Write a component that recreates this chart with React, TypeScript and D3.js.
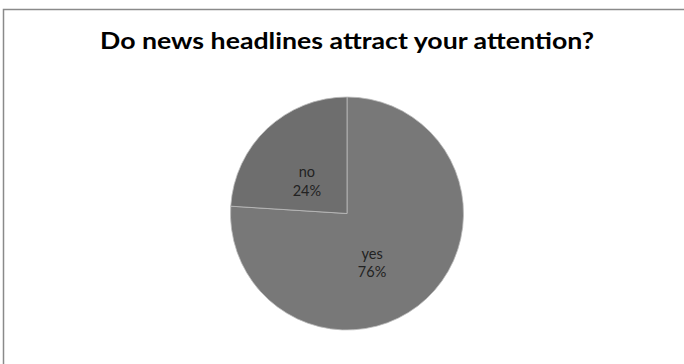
import React from "react";
import * as d3 from "d3";

const title = "Do news headlines attract your attention?";
const categories = ["yes", "no"];
const values = [76, 24];
const sliceColors = ["#787878", "#6e6e6e"];
const labelNudges: [number, number][] = [[-12, 10], [-3, 7]];

export default function App() {
  const W = 684;
  const H = 364;
  const cx = 347;
  const cy = 213.5;
  const R = 116.5;

  const pie = d3.pie<number>().sort(null).value((d) => d);
  const arcs = pie(values);
  const arcGen = d3.arc<d3.PieArcDatum<number>>().innerRadius(0).outerRadius(R);
  const labelArc = d3.arc<d3.PieArcDatum<number>>().innerRadius(R * 0.465).outerRadius(R * 0.465);
  const fmt = d3.format(".0%");
  const total = d3.sum(values);

  return (
    <svg
      width={W}
      height={H}
      style={{ position: "absolute", left: 0, top: 0, background: "#fff" }}
    >
      <rect x={3.5} y={9.5} width={W + 10} height={H + 10} fill="#fff" stroke="#8a8a8a" strokeWidth={1.5} />
      <text
        x={347}
        y={49}
        textAnchor="middle"
        fontFamily="Lato, 'Open Sans', sans-serif"
        fontWeight="bold"
        fontSize={22}
        textLength={494}
        lengthAdjust="spacingAndGlyphs"
        fill="#000"
      >
        {title}
      </text>
      <g transform={`translate(${cx},${cy})`}>
        {arcs.map((a, i) => (
          <path key={categories[i]} d={arcGen(a) || ""} fill={sliceColors[i]} stroke="#bdbdbd" strokeWidth={0.8} />
        ))}
        {arcs.map((a, i) => {
          const [lx, ly] = labelArc.centroid(a);
          const x = lx + labelNudges[i][0];
          const y = ly + labelNudges[i][1];
          return (
            <text
              key={"l" + categories[i]}
              x={x}
              y={y}
              textAnchor="middle"
              fontFamily="Lato, 'Open Sans', sans-serif"
              fontSize={14.5}
              fill="#222"
            >
              <tspan x={x} dy={-4}>{categories[i]}</tspan>
              <tspan x={x} dy={18.5}>{fmt(values[i] / total)}</tspan>
            </text>
          );
        })}
      </g>
    </svg>
  );
}
